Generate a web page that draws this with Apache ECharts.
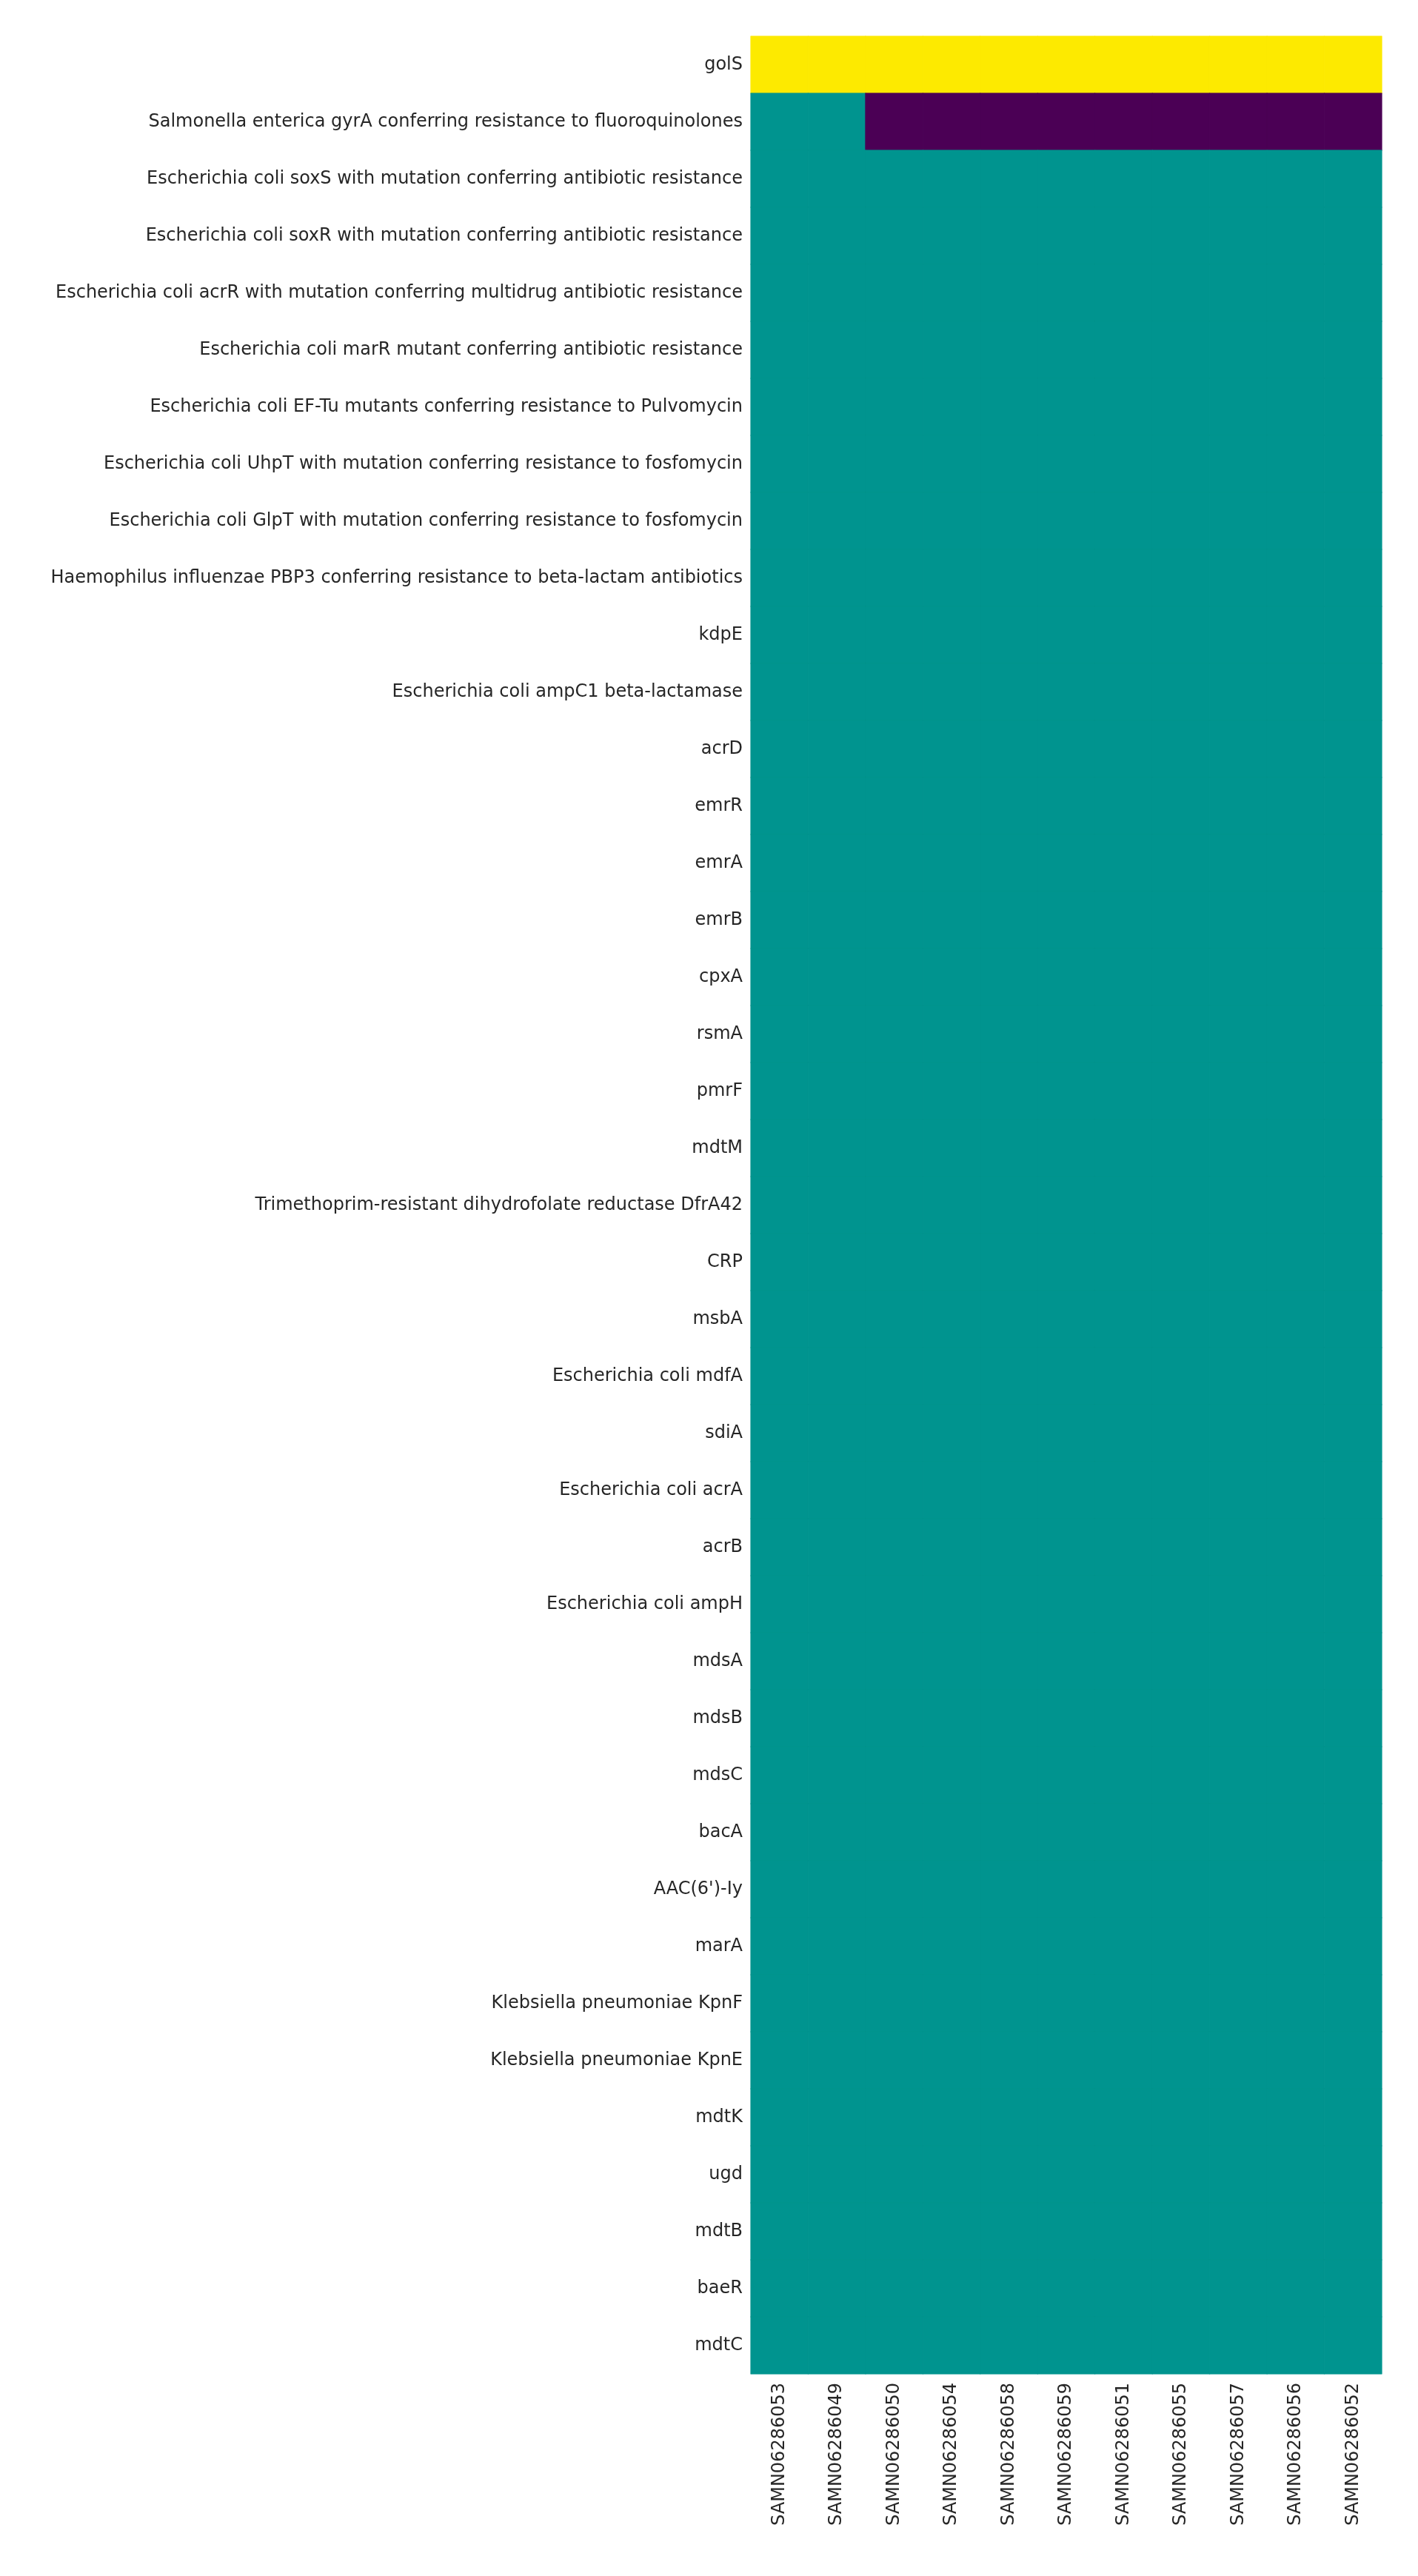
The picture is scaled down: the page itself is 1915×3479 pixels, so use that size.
<!DOCTYPE html>
<html>
<head>
<meta charset="utf-8">
<script src="https://cdn.jsdelivr.net/npm/echarts@6/dist/echarts.min.js"></script>
<style>
html,body{margin:0;padding:0;background:#fff;}
#chart{width:1915px;height:3479px;}
</style>
</head>
<body>
<div id="chart"></div>
<script>
const samples = ["SAMN06286053","SAMN06286049","SAMN06286050","SAMN06286054","SAMN06286058","SAMN06286059","SAMN06286051","SAMN06286055","SAMN06286057","SAMN06286056","SAMN06286052"];
const genes = [
"golS",
"Salmonella enterica gyrA conferring resistance to fluoroquinolones",
"Escherichia coli soxS with mutation conferring antibiotic resistance",
"Escherichia coli soxR with mutation conferring antibiotic resistance",
"Escherichia coli acrR with mutation conferring multidrug antibiotic resistance",
"Escherichia coli marR mutant conferring antibiotic resistance",
"Escherichia coli EF-Tu mutants conferring resistance to Pulvomycin",
"Escherichia coli UhpT with mutation conferring resistance to fosfomycin",
"Escherichia coli GlpT with mutation conferring resistance to fosfomycin",
"Haemophilus influenzae PBP3 conferring resistance to beta-lactam antibiotics",
"kdpE",
"Escherichia coli ampC1 beta-lactamase",
"acrD","emrR","emrA","emrB","cpxA","rsmA","pmrF","mdtM",
"Trimethoprim-resistant dihydrofolate reductase DfrA42",
"CRP","msbA",
"Escherichia coli mdfA",
"sdiA",
"Escherichia coli acrA",
"acrB",
"Escherichia coli ampH",
"mdsA","mdsB","mdsC","bacA","AAC(6')-Iy","marA",
"Klebsiella pneumoniae KpnF",
"Klebsiella pneumoniae KpnE",
"mdtK","ugd","mdtB","baeR","mdtC"
];
// values per gene row (0 = purple, 1 = teal, 2 = yellow)
const golSRow = [2,2,2,2,2,2,2,2,2,2,2];
const gyrARow = [1,1,0,0,0,0,0,0,0,0,0];
const commonRow = [1,1,1,1,1,1,1,1,1,1,1];
const rows = genes.map((g, i) => i === 0 ? golSRow : (i === 1 ? gyrARow : commonRow));

const palette = ['#4b0055', '#00948f', '#fdea00'];

const data = [];
rows.forEach((row, yi) => row.forEach((v, xi) => data.push({
  value: [xi, yi, v],
  itemStyle: {color: palette[v], borderColor: palette[v], borderWidth: 0.6}
})));

const chart = echarts.init(document.getElementById('chart'), null, {renderer: 'canvas'});
const font = 'DejaVu Sans';
chart.setOption({
  animation: false,
  backgroundColor: '#ffffff',
  tooltip: {show: false},
  grid: {left: 1014, right: 49, top: 49, bottom: 273, containLabel: false},
  xAxis: {
    type: 'category', data: samples, position: 'bottom',
    axisLine: {show: false}, axisTick: {show: false}, splitLine: {show: false}, splitArea: {show: false},
    axisLabel: {rotate: 90, interval: 0, margin: 12, fontFamily: font, fontSize: 24, color: '#262626'}
  },
  yAxis: {
    type: 'category', data: genes, inverse: true,
    axisLine: {show: false}, axisTick: {show: false}, splitLine: {show: false}, splitArea: {show: false},
    axisLabel: {interval: 0, margin: 11, padding: [4, 0, 0, 0], fontFamily: font, fontSize: 24, color: '#262626'}
  },
  series: [{
    type: 'heatmap', data: data,
    emphasis: {disabled: true}
  }]
});
</script>
</body>
</html>
